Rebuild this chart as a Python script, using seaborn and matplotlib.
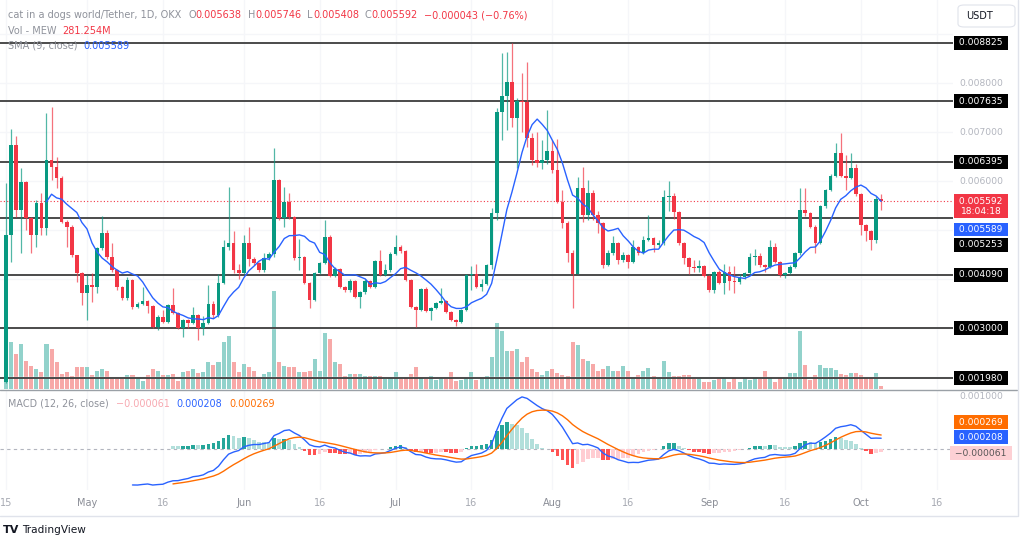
import numpy as np
import pandas as pd
import seaborn as sns
import matplotlib.pyplot as plt
from matplotlib import transforms
from matplotlib.lines import Line2D
from matplotlib.patches import FancyBboxPatch

# daily candles, prices in millionths of USDT
start_date = "2024-04-15"
opens = [1900, 4902, 6741, 5413, 5985, 5250, 4902, 5556, 5045, 6435, 6292, 6067, 5168, 5066, 4494, 4126, 3718, 3881, 3850, 4637,
         4943, 4453, 4187, 3840, 3615, 3983, 3432, 3493, 3554, 3452, 3023, 3227, 3125, 3472, 3309, 3002, 3166, 3105, 3268, 3002,
         3105, 3493, 3268, 3922, 4657, 4739, 4187, 4126, 4739, 4412, 4330, 4187, 4433, 4514, 6026, 5250, 5576, 5270, 4433, 4453,
         3922, 3574, 4126, 4330, 4862, 4065, 4208, 3840, 3779, 3963, 3636, 3738, 3963, 3840, 4371, 4085, 4187, 4514, 4657, 4575,
         3983, 3432, 3370, 3799, 3350, 3411, 3513, 3554, 3330, 3166, 3125, 3370, 4085, 4106, 3840, 3901, 4290, 5352, 7415, 7742,
         8028, 7293, 7640, 7620, 6884, 6435, 6374, 6435, 6619, 6230, 5576, 5148, 4535, 4106, 5863, 5311, 5760, 5311, 5148, 4290,
         4535, 4739, 4392, 4494, 4351, 4657, 4535, 4800, 4841, 4698, 4739, 5679, 5700, 5372, 4739, 4433, 4249, 4228, 4270, 4065,
         3779, 4147, 3922, 4147, 3963, 3942, 4044, 4126, 4453, 4473, 4290, 4249, 4657, 4351, 4085, 4126, 4249, 4535, 5413, 5352,
         5066, 4739, 5495, 5822, 6108, 6578, 6108, 6067, 6271, 5740, 5107, 4984, 4800, 5638]
highs = [5965, 7068, 6925, 6271, 6000, 5280, 5617, 5760, 7395, 7517, 6496, 6100, 5200, 5100, 4500, 4150, 4085, 4126, 4660, 5291,
         5005, 4739, 4200, 3860, 4044, 4000, 3530, 3840, 3580, 3470, 3260, 3370, 3500, 3820, 3330, 3180, 3180, 3432, 3280, 3250,
         3881, 3550, 4100, 4800, 5883, 4984, 4300, 4902, 5066, 4450, 4350, 4535, 4555, 6680, 6050, 5883, 5760, 5300, 4821, 4470,
         3950, 4150, 4350, 5209, 4900, 4250, 4230, 3860, 4000, 3980, 3760, 4000, 3990, 4400, 4600, 4300, 4550, 4902, 4700, 4600,
         4000, 3450, 3820, 3840, 3430, 3530, 3820, 3570, 3350, 3180, 3390, 4100, 4270, 4300, 4000, 4310, 5450, 7500, 8621, 8641,
         8825, 7700, 8212, 8437, 6986, 7007, 6843, 7456, 6850, 6860, 5822, 5180, 4600, 6087, 6292, 6026, 5822, 5400, 5170, 4600,
         4880, 4760, 4550, 4520, 4800, 4680, 4880, 5311, 4860, 4800, 5822, 6006, 5750, 5400, 4760, 4450, 4392, 4392, 4290, 4080,
         4170, 4187, 4310, 4270, 4270, 4100, 4150, 4535, 4616, 4535, 4310, 4800, 4739, 4370, 4150, 4290, 4550, 5863, 5863, 5370,
         5100, 5520, 5850, 6150, 6782, 6986, 6537, 6578, 6350, 5760, 5130, 5000, 5700, 5746]
lows = [1880, 4351, 5270, 4535, 5005, 4535, 4657, 4902, 4902, 6026, 5863, 5150, 4657, 4450, 3942, 3472, 3166, 3534, 3718, 4600,
        4420, 4150, 3779, 3574, 3580, 3400, 3410, 3470, 3309, 3000, 2962, 3100, 3100, 3280, 2980, 2818, 3000, 3090, 2757, 2860,
        3080, 3200, 3220, 3900, 4600, 4126, 4000, 4100, 4270, 4290, 4150, 4150, 4400, 4450, 5200, 5066, 5230, 4400, 4187, 3900,
        3411, 3550, 4100, 4300, 4044, 4044, 3820, 3738, 3740, 3610, 3411, 3700, 3810, 3820, 4060, 4060, 4150, 4500, 4540, 3960,
        3410, 3023, 3350, 3330, 3166, 3390, 3500, 3300, 3150, 3040, 3100, 3350, 3779, 3820, 3750, 3880, 4200, 5200, 6843, 7048,
        7100, 6271, 7000, 6700, 6332, 6300, 6250, 6350, 6170, 5560, 5045, 4351, 3411, 4100, 5168, 5209, 5200, 4950, 4228, 4270,
        4500, 4310, 4350, 4228, 4330, 4500, 4510, 4780, 4550, 4650, 4700, 5400, 5230, 4700, 4310, 4106, 4147, 4147, 4044, 3738,
        3718, 3900, 3697, 3779, 3718, 3900, 4000, 4100, 4290, 4250, 4147, 4230, 4330, 4044, 4024, 4100, 4230, 4500, 5300, 5040,
        4535, 4720, 5450, 5800, 6080, 6080, 5822, 6040, 5700, 4902, 4780, 4596, 4739, 5408]
closes = [4902, 6741, 5413, 5985, 5250, 4902, 5556, 5045, 6435, 6292, 6067, 5168, 5066, 4494, 4126, 3718, 3881, 3850, 4637, 4943,
          4453, 4187, 3840, 3615, 3983, 3432, 3493, 3554, 3452, 3023, 3227, 3125, 3472, 3309, 3002, 3166, 3105, 3268, 3002, 3105,
          3493, 3268, 3922, 4657, 4739, 4187, 4126, 4739, 4412, 4330, 4187, 4433, 4514, 6026, 5250, 5576, 5270, 4433, 4453, 3922,
          3574, 4126, 4330, 4862, 4065, 4208, 3840, 3779, 3963, 3636, 3738, 3963, 3840, 4371, 4085, 4187, 4514, 4657, 4575, 3983,
          3432, 3370, 3799, 3350, 3411, 3513, 3554, 3330, 3166, 3125, 3370, 4085, 4106, 3840, 3901, 4290, 5352, 7415, 7742, 8028,
          7293, 7640, 7620, 6884, 6435, 6374, 6435, 6619, 6230, 5576, 5148, 4535, 4106, 5863, 5311, 5760, 5311, 5148, 4290, 4535,
          4739, 4392, 4494, 4351, 4657, 4535, 4800, 4841, 4698, 4739, 5679, 5700, 5372, 4739, 4433, 4249, 4228, 4270, 4065, 3779,
          4147, 3922, 4147, 3963, 3942, 4044, 4126, 4453, 4473, 4290, 4249, 4657, 4351, 4085, 4126, 4249, 4535, 5413, 5352, 5066,
          4739, 5495, 5822, 6108, 6578, 6108, 6067, 6271, 5740, 5107, 4984, 4800, 5638, 5592]
# volume in millions of MEW
volumes = [4700, 4700, 3500, 4500, 2800, 2300, 2000, 1700, 4500, 4000, 2700, 1500, 1700, 1300, 2200, 2200, 2200, 1400, 1800, 2000,
           1800, 1000, 1000, 1000, 1400, 1400, 1100, 800, 1400, 2000, 1800, 1400, 1400, 1500, 800, 1700, 1800, 2000, 1600, 1700,
           2700, 2400, 2700, 4700, 5300, 2700, 1700, 2500, 2200, 1800, 1000, 1500, 1700, 9800, 2700, 2300, 2200, 2200, 1700, 1700,
           1800, 3000, 1800, 5600, 5000, 2700, 2500, 1300, 1500, 1500, 1500, 1300, 1300, 1300, 1300, 1000, 1200, 1700, 1000, 1100,
           1500, 2200, 1200, 1000, 1300, 900, 1000, 1000, 1700, 800, 900, 1200, 1700, 900, 1200, 1300, 3200, 6600, 5800, 3800,
           3800, 4000, 2700, 3200, 2000, 1700, 1400, 1800, 2000, 1600, 1400, 1300, 4700, 4400, 3000, 2800, 2500, 1800, 2000, 2300,
           1800, 1800, 2300, 1800, 1100, 1400, 1800, 2100, 1300, 1100, 2800, 1700, 1300, 1300, 1400, 1400, 1000, 1000, 700, 700,
           900, 1000, 1200, 700, 1100, 700, 1200, 900, 1200, 1000, 1800, 1200, 700, 1100, 1200, 1600, 1600, 5800, 2400, 900,
           1400, 2400, 2100, 2100, 1900, 1500, 1400, 1600, 1600, 1400, 1100, 1100, 1600, 281]

levels = [0.008825, 0.007635, 0.006395, 0.005253, 0.004090, 0.003000, 0.001980]
price_ticks = [0.009, 0.008, 0.007, 0.006, 0.005, 0.004, 0.003, 0.002]
shown_price_ticks = [0.008, 0.007, 0.006]   # the others sit under the level boxes
tick_dates = ["2024-04-15", "2024-05-01", "2024-05-16", "2024-06-01", "2024-06-16", "2024-07-01", "2024-07-16",
              "2024-08-01", "2024-08-16", "2024-09-01", "2024-09-16", "2024-10-01", "2024-10-16"]
tick_labels = ["15", "May", "16", "Jun", "16", "Jul", "16", "Aug", "16", "Sep", "16", "Oct", "16"]
sma_last = 0.005589
macd_last, signal_last, hist_last = 0.000208, 0.000269, -0.000061

GREEN, RED = "#089981", "#f23645"
GRAY_TXT = "#8f929b"
AXIS_TXT = "#b2b5be"
GRID = "#f5f6f9"
W, H = 1024, 541

sns.set_style("white")
plt.rcParams["font.family"] = ["DejaVu Sans"]

O = np.array(opens) / 1e6
Hi = np.array(highs) / 1e6
Lo = np.array(lows) / 1e6
C = np.array(closes) / 1e6
V = np.array(volumes, dtype=float)
n = len(C)
idx = np.arange(n)
up = C >= O

# indicators
sma = pd.Series(C).rolling(9).mean().to_numpy()


def tv_ema(values, span):
    out = np.full(len(values), np.nan)
    first = np.flatnonzero(~np.isnan(values))[0]
    seed = first + span - 1
    out[seed] = values[first:seed + 1].mean()
    a = 2 / (span + 1)
    for i in range(seed + 1, len(values)):
        out[i] = a * values[i] + (1 - a) * out[i - 1]
    return out


macd = tv_ema(C, 12) - tv_ema(C, 26)
signal = tv_ema(macd, 9)
hist = macd - signal
hist_cols = []
for i in range(n):
    h = hist[i]
    prev = hist[i - 1] if i > 0 and not np.isnan(hist[i - 1]) else h
    if np.isnan(h):
        hist_cols.append("none")
    elif h >= 0:
        hist_cols.append("#26a69a" if h > prev else "#b2dfdb")
    else:
        hist_cols.append("#ffcdd2" if h > prev else "#ff5252")

# figure and panes
fig = plt.figure(figsize=(W / 100, H / 100), dpi=100)
main_rect = [0, 1 - 389 / H, 953 / W, 389 / H]
axv = fig.add_axes(main_rect)
ax = fig.add_axes(main_rect, sharex=axv)
axm = fig.add_axes([0, 1 - 490 / H, 953 / W, 99 / H], sharex=axv)
ax.patch.set_visible(False)

tick_pos = (pd.to_datetime(tick_dates) - pd.Timestamp(start_date)).days.to_numpy()

# volume
axv.bar(idx, V, width=0.8, color=np.where(up, "#92d2cb", "#f7a9a8"), linewidth=0)
axv.set_ylim(0, V.max() * 3.97)
axv.set_xticks(tick_pos)
axv.grid(axis="x", color=GRID, lw=1)
axv.tick_params(length=0, labelbottom=False, labelleft=False)

# candles
cols = np.where(up, GREEN, RED)
ax.vlines(idx, Lo, Hi, colors=cols, lw=0.9, alpha=0.7, zorder=3)
body = np.maximum(np.abs(C - O), 0.000022)
ax.bar(idx, body, bottom=np.minimum(O, C), width=0.72, color=cols, linewidth=0, zorder=4)
for lv in levels:
    ax.axhline(lv, color="#3d3d3d", lw=1.3, zorder=2)
ax.axhline(C[-1], color=RED, lw=0.8, ls=(0, (1, 2)), zorder=2)
sns.lineplot(x=idx, y=sma, ax=ax, color="#2962ff", lw=1.0, estimator=None, zorder=5)
ax.set_xlim(-1.19, 187.2)
ax.set_ylim(0.001756, 0.009703)
ax.set_yticks(price_ticks)
ax.grid(axis="y", color=GRID, lw=1)
ax.tick_params(length=0, labelbottom=False, labelleft=False)

# MACD
axm.bar(idx, np.nan_to_num(hist), width=0.72, color=hist_cols, linewidth=0, zorder=2)
sns.lineplot(x=idx, y=macd, ax=axm, color="#2962ff", lw=1.0, estimator=None, zorder=3)
sns.lineplot(x=idx, y=signal, ax=axm, color="#ff6d00", lw=1.0, estimator=None, zorder=3)
axm.axhline(0, color="#b2b5be", lw=0.8, ls=(0, (3, 3)), zorder=1)
axm.set_ylim(-0.000788, 0.001115)
axm.set_xticks(tick_pos)
axm.set_xticklabels(tick_labels)
axm.grid(axis="x", color=GRID, lw=1)
axm.tick_params(axis="x", length=0, pad=6, labelsize=7)
axm.tick_params(axis="y", length=0, labelleft=False)
for lab in axm.get_xticklabels():
    lab.set_color("#8a8d96" if lab.get_text().isalpha() else "#a6a9b2")

for a in (axv, ax, axm):
    a.set_xlabel("")
    a.set_ylabel("")
    for s in a.spines.values():
        s.set_visible(False)

# right price scale
tr_main = transforms.blended_transform_factory(fig.transFigure, ax.transData)
tr_macd = transforms.blended_transform_factory(fig.transFigure, axm.transData)
xlab = 981 / W
for p in shown_price_ticks:
    fig.text(xlab, p, f"{p:.6f}", transform=tr_main, ha="center", va="center", color=AXIS_TXT, fontsize=6.6)
fig.text(xlab, 0.001, "0.001000", transform=tr_macd, ha="center", va="center", color=AXIS_TXT, fontsize=6.6)


def scale_label(value, text, trans, fc, tc="white", shift=0):
    t = transforms.offset_copy(trans, fig=fig, y=shift, units="dots")
    fig.text(xlab, value, text, transform=t, ha="center", va="center", color=tc, fontsize=6.6,
             linespacing=1.15, bbox=dict(boxstyle="square,pad=0.25", fc=fc, ec="none"), zorder=5)


for lv in levels:
    scale_label(lv, f" {lv:.6f} ", tr_main, "black", shift=-27 if lv == 0.005253 else 0)
scale_label(C[-1], f" {C[-1]:.6f} \n18:04:18", tr_main, RED, shift=-5)
scale_label(sma_last, f" {sma_last:.6f} ", tr_main, "#2962ff", shift=-28)
scale_label(signal_last, f" {signal_last:.6f} ", tr_macd, "#ff6d00", shift=13)
scale_label(macd_last, f" {macd_last:.6f} ", tr_macd, "#2962ff", shift=1)
scale_label(hist_last, f" \u2212{abs(hist_last):.6f} ", tr_macd, "#fdd0d4", tc="#555555", shift=-1)

# legends (header texts)
renderer = fig.canvas.get_renderer()


def text_run(x_px, y_px, pieces, size=7.0):
    x = x_px
    for s, color, gap in pieces:
        t = fig.text(x / W, 1 - y_px / H, s, color=color, fontsize=size, ha="left", va="center")
        x += t.get_window_extent(renderer=renderer).width + gap


text_run(8, 15, [("cat in a dogs world/Tether, 1D, OKX", GRAY_TXT, 7),
                 ("O", GRAY_TXT, 0), (f"{O[-1]:.6f}", RED, 6),
                 ("H", GRAY_TXT, 0), (f"{Hi[-1]:.6f}", RED, 6),
                 ("L", GRAY_TXT, 0), (f"{Lo[-1]:.6f}", RED, 6),
                 ("C", GRAY_TXT, 0), (f"{C[-1]:.6f}", RED, 6),
                 ("\u22120.000043 (\u22120.76%)", RED, 0)])
text_run(8, 31, [("Vol - MEW", GRAY_TXT, 6), ("281.254M", RED, 0)])
text_run(8, 46, [("SMA (9, close)", GRAY_TXT, 6), (f"{sma_last:.6f}", "#2962ff", 0)])
text_run(8, 404, [("MACD (12, 26, close)", GRAY_TXT, 7), (f"\u2212{abs(hist_last):.6f}", "#f7a8b0", 7),
                  (f"{macd_last:.6f}", "#2962ff", 7), (f"{signal_last:.6f}", "#ff6d00", 0)], size=6.9)

# frame lines, currency box, logo
fig.add_artist(Line2D([0, 1017 / W], [1 - 389.5 / H] * 2, transform=fig.transFigure, color="#9aa0a6", lw=1))
fig.add_artist(Line2D([0, 1017 / W], [1 - 516 / H] * 2, transform=fig.transFigure, color="#e0e3eb", lw=1))
fig.add_artist(Line2D([1017.5 / W] * 2, [1 - 516 / H, 1], transform=fig.transFigure, color="#e0e3eb", lw=1))
fig.add_artist(FancyBboxPatch((958 / W, 1 - 27 / H), 57 / W, 22 / H, boxstyle="round,pad=0,rounding_size=0.006",
                              transform=fig.transFigure, fc="white", ec="#e0e3eb", lw=0.8))
fig.text(966 / W, 1 - 16 / H, "USDT", color="#131722", fontsize=7, ha="left", va="center")
fig.text(3 / W, 1 - 530 / H, "TV", color="#131722", fontsize=8, fontweight="heavy", ha="left", va="center")
fig.text(22 / W, 1 - 530 / H, "TradingView", color="#131722", fontsize=7.6, ha="left", va="center")

fig.savefig("out.png", dpi=100, facecolor="white")
